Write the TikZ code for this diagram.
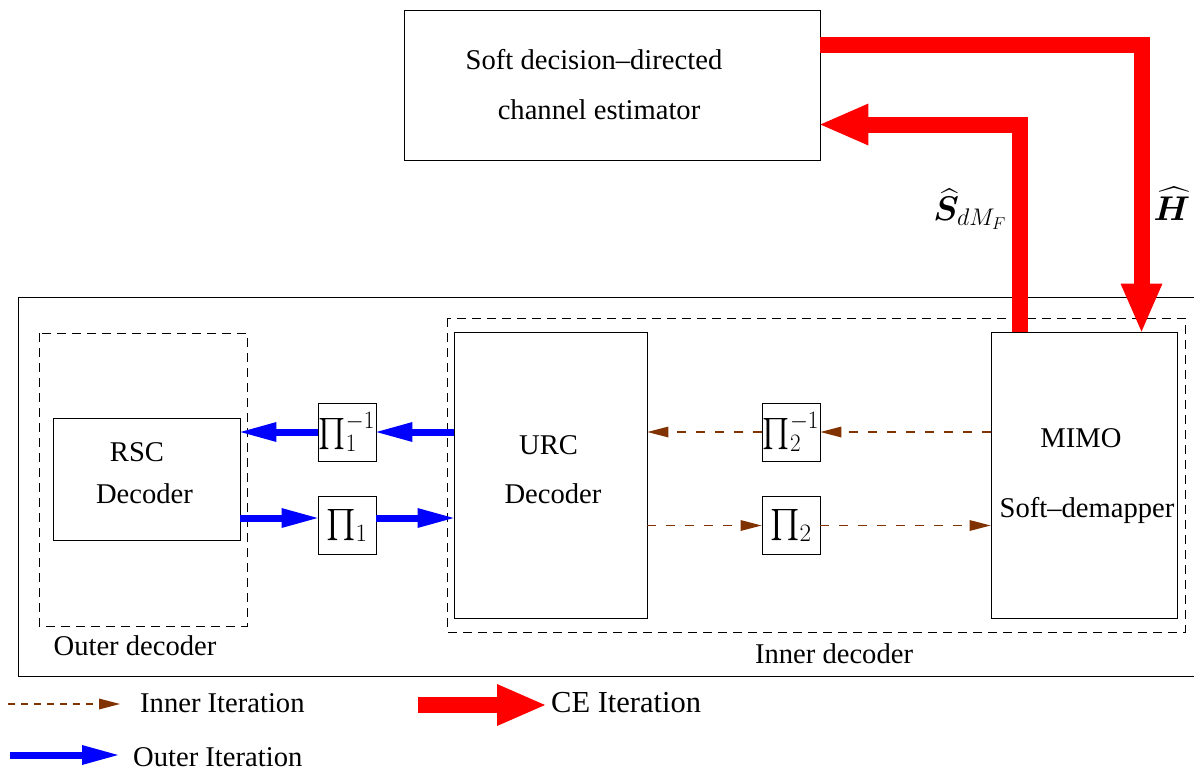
\RequirePackage{fix-cm}
\documentclass[tikz,border=0pt]{standalone}
\usepackage{amsmath,bm,graphicx}
\usepackage{fontspec}
\setmainfont{Liberation Serif}
\usetikzlibrary{arrows.meta}
\definecolor{innerBrown}{RGB}{128,51,0}
\begin{document}
\begin{tikzpicture}[x=1pt,y=-1pt,
  every node/.style={font=\fontsize{28.6}{34}\selectfont},
  box/.style={draw, line width=0.9pt, inner sep=0pt},
  pibox/.style={draw, line width=0.9pt, inner sep=0pt, minimum width=58, minimum height=58},
  dbox/.style={draw, dash pattern=on 9pt off 6pt, line width=0.8pt},
  lbl/.style={inner sep=0pt},
  outerit/.style={blue, line width=7pt, -{Triangle[length=36pt,width=20pt,line width=0pt]}},
  innerit/.style={innerBrown, line width=1.1pt, dash pattern=on 9pt off 10pt, -{Triangle[length=21pt,width=11pt,line width=0pt]}},
  ceit/.style={red, line width=16pt, line join=miter, -{Triangle[length=48pt,width=42pt,line width=0pt]}},
]
\useasboundingbox (0,0) rectangle (1194,771);

% containers
\draw[line width=0.9pt] (1194,297) -| (18,676) -- (1194,676);
\draw[dbox] (39,333) rectangle (247,626);
\draw[dbox] (447,318) rectangle (1185,632);
\node[lbl] (outerlbl) at (135,646) {Outer decoder};
\node[lbl] (innerlbl) at (834,654) {Inner decoder};

% blocks
\node[box, minimum width=416, minimum height=150] (est) at (612,85) {};
\node[lbl] (estA) at (594,60) {Soft decision--directed};
\node[lbl] (estB) at (599,110) {channel estimator};
\node[box, minimum width=187, minimum height=122] (rsc) at (146.5,479) {};
\node[lbl] (rscA) at (137,452) {RSC};
\node[lbl] (rscB) at (144.5,494) {Decoder};
\node[pibox] (p1i) at (347,432) {\makebox[0pt]{\scalebox{1.15}[1.25]{$\prod_1^{-1}$}}};
\node[pibox] (p1) at (347,525.5) {\makebox[0pt]{\scalebox{1.25}{$\prod_1$}}};
\node[box, minimum width=193, minimum height=286] (urc) at (550.5,475) {};
\node[lbl] (urcA) at (548.5,445) {URC};
\node[lbl] (urcB) at (553,494) {Decoder};
\node[pibox] (p2i) at (791,432) {\makebox[0pt]{\scalebox{1.15}[1.25]{$\prod_2^{-1}$}}};
\node[pibox] (p2) at (791,525.5) {\makebox[0pt]{\scalebox{1.25}{$\prod_2$}}};
\node[box, minimum width=186, minimum height=286] (mimo) at (1084,475) {};
\node[lbl] (mimoA) at (1081,438) {MIMO};
\node[lbl] (mimoB) at (1087,510) {Soft--demapper};

% outer iteration
\coordinate (p1w) at ([yshift=7.5pt]p1.west);
\coordinate (p1e) at ([yshift=7.5pt]p1.east);
\draw[outerit] (urc.west |- p1i.east) -- (p1i.east);
\draw[outerit] (p1i.west) -- (rsc.east |- p1i.west);
\draw[outerit] (rsc.east |- p1w) -- (p1w);
\draw[outerit] (p1e) -- (urc.west |- p1e);

% inner iteration
\draw[innerit] (mimo.west |- p2i.east) -- (p2i.east);
\draw[innerit] (p2i.west) -- (urc.east |- p2i.west);
\draw[innerit] (urc.east |- p2.west) -- (p2.west);
\draw[innerit] (p2.east) -- (mimo.west |- p2.east);

% CE iteration
\coordinate (h0) at ([yshift=-35.5pt]est.north east);
\coordinate (h1) at ([xshift=57.5pt]mimo.north);
\coordinate (s0) at ([xshift=-64pt]mimo.north);
\coordinate (s1) at ([yshift=-39.5pt]est.east);
\draw[ceit] (h0) -| (h1);
\draw[ceit] (s0) |- (s1);
\node[lbl] (slbl) at (970,209) {\scalebox{1.2}{$\widehat{\bm{S}}_{dM_F}$}};
\node[lbl] (hlbl) at (1172,204) {\scalebox{1.2}{$\widehat{\bm{H}}$}};

% legend
\coordinate (li0) at (8,704);
\coordinate (li1) at (120,704);
\draw[innerit, dash pattern=on 7pt off 6pt] (li0) -- (li1);
\node[lbl, anchor=west] (lit) at (140,703) {Inner Iteration};
\coordinate (lc0) at (418,705);
\coordinate (lc1) at (545,705);
\draw[ceit] (lc0) -- (lc1);
\node[lbl, anchor=west, font=\fontsize{30.5}{34}\selectfont] (lct) at (551,703) {CE Iteration};
\coordinate (lo0) at (10,755);
\coordinate (lo1) at (118,755);
\draw[outerit] (lo0) -- (lo1);
\node[lbl, anchor=west] (lot) at (133,757) {Outer Iteration};
\end{tikzpicture}
\end{document}
